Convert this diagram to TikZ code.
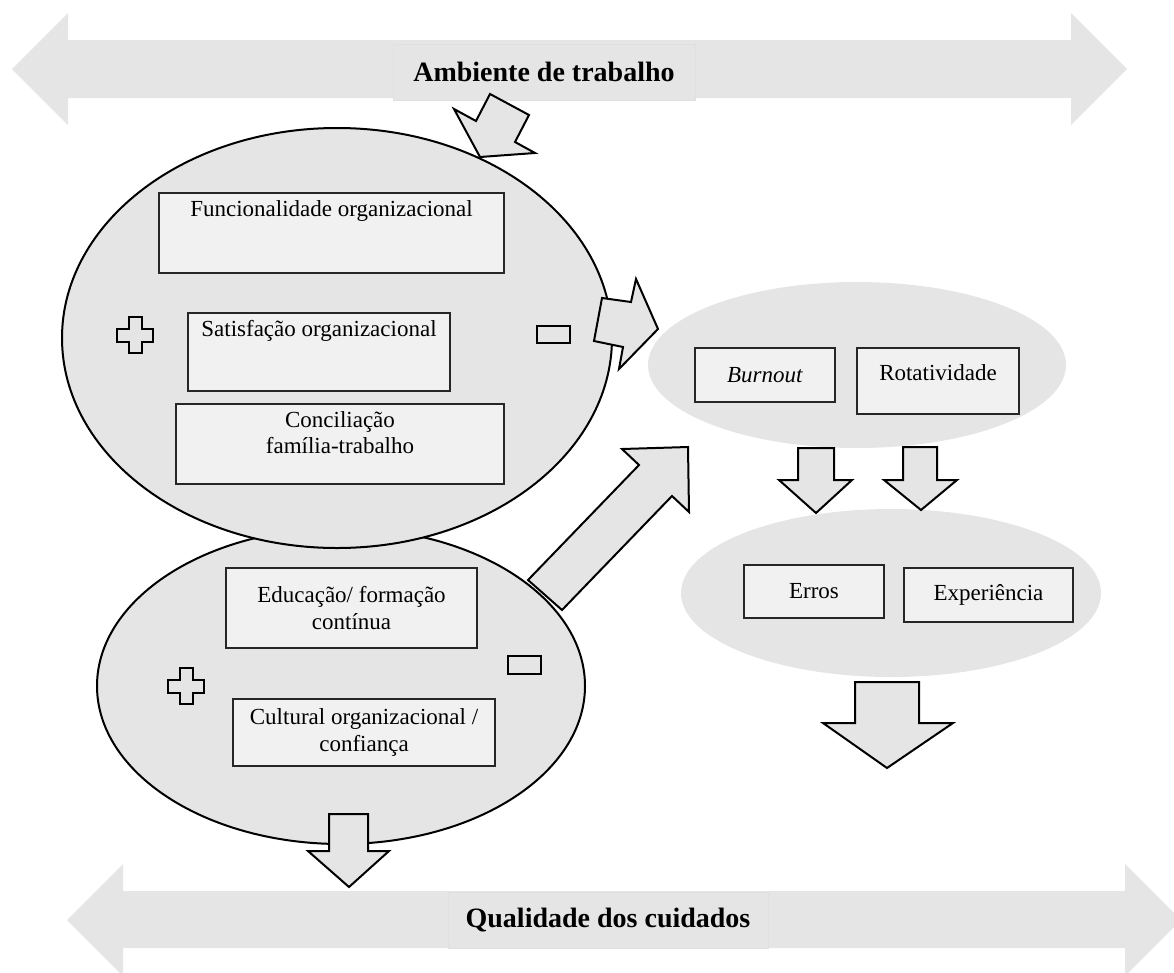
\documentclass[tikz,border=0pt]{standalone}
\usepackage{fontspec}
\setmainfont{Liberation Serif}
\usepackage{tikz}
\usetikzlibrary{shapes.geometric}
\definecolor{fundo}{RGB}{229,229,229}
\definecolor{caixafundo}{RGB}{241,241,241}
\tikzset{
  elipse/.style={ellipse, fill=fundo, draw=black, line width=2pt, inner sep=0pt},
  nuvem/.style={ellipse, fill=fundo, inner sep=0pt},
  caixa/.style={rectangle, fill=caixafundo, draw=black!85, line width=1.5pt, inner sep=0pt, align=center},
  topo/.style={label={[anchor=north,inner sep=3pt,yshift=-5pt,align=center]north:#1}},
  faixa/.style={fill=fundo},
  seta/.style={fill=fundo, draw=black, line width=2pt, line join=miter},
  sinal/.style={rectangle, fill=fundo, draw=black, line width=2pt, inner sep=0pt},
  titulo/.style={rectangle, fill=fundo, draw=white!88!black, line width=1pt, font=\fontsize{28}{32}\selectfont\bfseries},
}
\newcommand{\mais}[1]{\draw[sinal] #1 ++(-6.5,-18) -- ++(13,0) -- ++(0,11.5) -- ++(11.5,0) -- ++(0,13) -- ++(-11.5,0) -- ++(0,11.5) -- ++(-13,0) -- ++(0,-11.5) -- ++(-11.5,0) -- ++(0,-13) -- ++(11.5,0) -- cycle;}

\begin{document}
\begin{tikzpicture}[x=1pt,y=-1pt,font=\fontsize{23}{26.5}\selectfont]
    \useasboundingbox (0,0) rectangle (1174,972);
    % faixas de fundo
    \fill[faixa] (12,69) -- (68,13) -- (68,40) -- (1071,40) -- (1071,13) -- (1127,69) -- (1071,125) -- (1071,98) -- (68,98) -- (68,125) -- cycle;
    \fill[faixa] (67,920) -- (123,864) -- (123,891) -- (1125,891) -- (1125,864) -- (1181,920) -- (1125,976) -- (1125,948) -- (123,948) -- (123,976) -- cycle;
    \node[titulo, minimum width=302pt, minimum height=56pt] (amb) at (544,72) {Ambiente de trabalho};
    \node[titulo, minimum width=320pt, minimum height=56pt] (qual) at (608,920) {Qualidade dos cuidados};

    % elipses
    \node[nuvem, minimum width=418pt, minimum height=166pt] (burnrot) at (857,365) {};
    \node[nuvem, minimum width=420pt, minimum height=168pt] (resultado) at (891,593) {};
    \node[elipse, minimum width=488pt, minimum height=316pt] (formacao) at (341,686) {};
    \draw[seta] (528,580) -- (639,465) -- (622,449) -- (688,447) -- (689,512) -- (672,496) -- (562,610) -- cycle;
    \node[elipse, minimum width=550pt, minimum height=420pt] (organiz) at (337,338) {};

    % setas
    \draw[seta] (454,109) -- (476,121) -- (490,94) -- (529,115) -- (515,142) -- (535,153) -- (480,157) -- cycle;
    \draw[seta] (602,298) -- (631,302) -- (636,279) -- (658,329) -- (619,369) -- (623,347) -- (594,341) -- cycle;
    \draw[seta] (798,448) -- (834,448) -- (834,480) -- (852,480) -- (816,513) -- (779,480) -- (798,480) -- cycle;
    \draw[seta] (903,447) -- (937,447) -- (937,480) -- (957,480) -- (921,510) -- (884,480) -- (903,480) -- cycle;
    \draw[seta] (855,682) -- (919,682) -- (919,723) -- (953,723) -- (887,768) -- (823,723) -- (855,723) -- cycle;
    \draw[seta] (329,814) -- (368,814) -- (368,851) -- (389,851) -- (349,887) -- (308,851) -- (329,851) -- cycle;

    % sinais
    \mais{(135,335)}
    \mais{(186,686)}
    \node[sinal, minimum width=33pt, minimum height=17pt] (menos1) at (553.5,334.5) {};
    \node[sinal, minimum width=33pt, minimum height=18pt] (menos2) at (524.5,665) {};

    % caixas
    \node[caixa, minimum width=345pt, minimum height=80pt, topo={Funcionalidade organizacional}] (func) at (331.5,233) {};
    \node[caixa, minimum width=262pt, minimum height=78pt, topo={Satisfação organizacional}] (satis) at (319,352) {};
    \node[caixa, minimum width=328pt, minimum height=80pt, topo={Conciliação\\família-trabalho}] (concil) at (340,444) {};
    \node[caixa, minimum width=251pt, minimum height=80pt] (educ) at (351.5,608) {Educação/ formação\\contínua};
    \node[caixa, minimum width=262pt, minimum height=67pt] (cult) at (364,732.5) {Cultural organizacional /\\confiança};
    \node[caixa, minimum width=140pt, minimum height=54pt] (burn) at (765,375) {\textit{Burnout}};
    \node[caixa, minimum width=162pt, minimum height=66pt, text depth=16pt] (rot) at (938,381) {Rotatividade};
    \node[caixa, minimum width=140pt, minimum height=53pt] (erros) at (814,591.5) {Erros};
    \node[caixa, minimum width=169pt, minimum height=54pt] (exper) at (988.5,595) {Experiência};
\end{tikzpicture}
\end{document}
